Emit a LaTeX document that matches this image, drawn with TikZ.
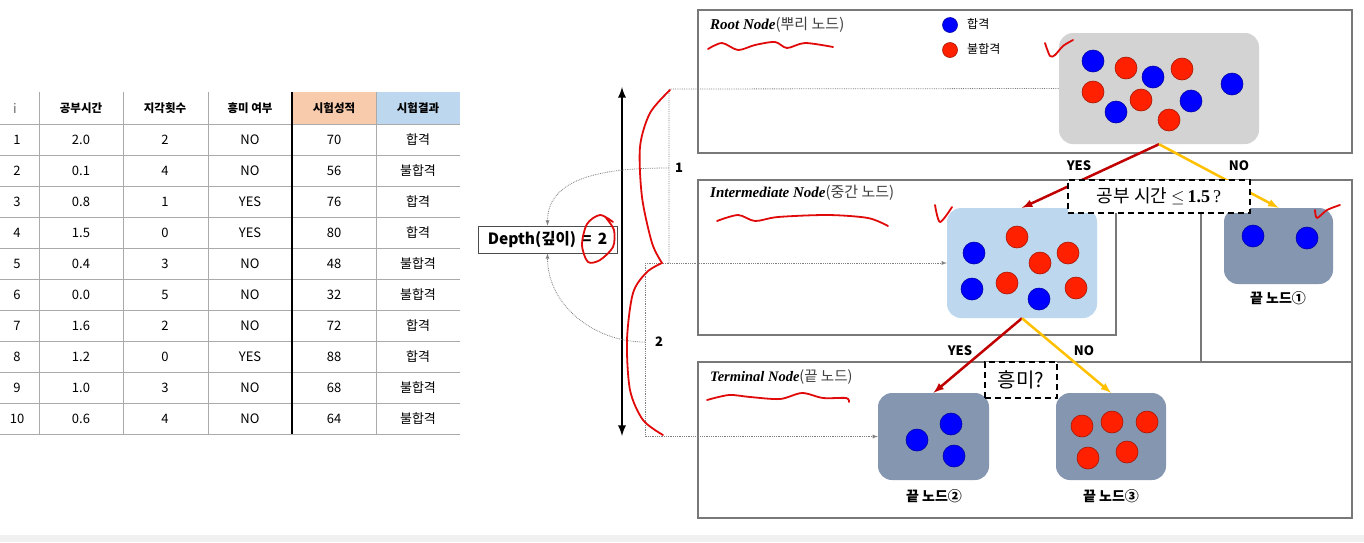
\documentclass[tikz,border=0pt]{standalone}
\usepackage{fontspec}
\setmainfont{Noto Sans CJK KR}
\newfontfamily\serifit{Liberation Serif}
\usepackage{xcolor}
\usetikzlibrary{calc, positioning}

\definecolor{rootgray}{RGB}{211,211,211}
\definecolor{midblue}{RGB}{189,215,238}
\definecolor{slate}{RGB}{132,150,176}
\definecolor{headpeach}{RGB}{248,203,173}
\definecolor{headblue}{RGB}{189,215,238}
\definecolor{gridgray}{RGB}{170,170,170}
\definecolor{panelgray}{RGB}{120,120,120}
\definecolor{yescol}{RGB}{192,0,0}
\definecolor{nocol}{RGB}{255,192,0}
\definecolor{bblue}{RGB}{0,0,255}
\definecolor{rred}{RGB}{255,32,0}
\definecolor{annot}{RGB}{225,10,10}

\begin{document}
\begin{tikzpicture}[>=latex, x=1pt, y=-1pt,
    cell/.style={inner sep=0pt, font=\fontsize{13}{13}\selectfont},
    head/.style={inner sep=0pt, font=\fontsize{11.5}{12}\selectfont\bfseries},
    lbl/.style={inner sep=0pt, font=\fontsize{13}{13}\selectfont\bfseries},
    panel/.style={draw=panelgray, line width=1.4pt},
    pool/.style={rounded corners=14pt, inner sep=0pt},
    ball/.style={circle, inner sep=0pt, minimum size=22pt, fill=#1, draw=#1!65!black, line width=0.6pt},
    ask/.style={draw, line width=2pt, dash pattern=on 6pt off 4pt, fill=white, inner sep=0pt},
    yesarrow/.style={->, draw=yescol, line width=2.5pt},
    noarrow/.style={->, draw=nocol, line width=2.5pt},
    guide/.style={densely dotted, draw=gray, line width=0.8pt},
    pen/.style={draw=annot, line width=1.8pt, line cap=round, line join=round}]
    \useasboundingbox[fill=white] (0,0) rectangle (1364,542);
    \fill[gray!12] (0,535) rectangle (1364,542);

    % 표
    \fill[headpeach] (292,92) rectangle (376,124);
    \fill[headblue] (376,92) rectangle (460,124);
    \foreach \k in {0,...,10}
        \draw[gridgray, line width=0.8pt] (0,{124+31*\k}) -- (460,{124+31*\k});
    \foreach \x in {39,123,208,376}
        \draw[gridgray, line width=0.8pt] (\x,92) -- (\x,434);
    \draw[line width=1.3pt] (292,92) -- (292,434);
    \node[cell, text=black!60] (h0) at (15,108) {i};
    \foreach \x/\t [count=\c] in {81/공부시간, 165/지각횟수, 250/흥미 여부, 334/시험성적, 418/시험결과}
        \node[head] (h\c) at (\x,108) {\t};
    \foreach \a/\b/\c/\d/\e/\f [count=\r] in {1/2.0/2/NO/70/합격, 2/0.1/4/NO/56/불합격,
        3/0.8/1/YES/76/합격, 4/1.5/0/YES/80/합격, 5/0.4/3/NO/48/불합격, 6/0.0/5/NO/32/불합격,
        7/1.6/2/NO/72/합격, 8/1.2/0/YES/88/합격, 9/1.0/3/NO/68/불합격, 10/0.6/4/NO/64/불합격} {
        \pgfmathsetmacro\y{108.5+31*\r}
        \node[cell] (ri\r) at (17,\y) {\a};
        \node[cell] (rt\r) at (81,\y) {\b};
        \node[cell] (rl\r) at (165,\y) {\c};
        \node[cell] (rh\r) at (250,\y) {\d};
        \node[cell] (rs\r) at (334,\y) {\e};
        \node[cell] (rp\r) at (418,\y) {\f};
    }

    % 깊이
    \coordinate (dtop) at (622,87);
    \coordinate (dbot) at (622,436);
    \draw[<->, line width=2.6pt] (dtop) -- (dbot);
    \node[draw=black!70, line width=0.8pt, minimum width=139pt, minimum height=27pt,
        font=\fontsize{15.5}{15.5}\selectfont\bfseries] (depth) at (547.5,239.5) {Depth(깊이)\, = \,2};

    % 영역
    \draw[panel] (698,10) rectangle (1352,153);
    \draw[panel] (698,180) rectangle (1116,335);
    \draw[panel] (1116,180) -- (1352,180) -- (1352,362);
    \draw[panel] (1201,180) -- (1201,362);
    \draw[panel] (698,362) rectangle (1352,518);
    \node[anchor=west, inner sep=0pt, font=\fontsize{15}{15}\selectfont] (lroot) at (710,25)
        {{\serifit\bfseries\itshape Root Node}\textcolor{black!75}{(뿌리 노드)}};
    \node[anchor=west, inner sep=0pt, font=\fontsize{15}{15}\selectfont] (lmid) at (710,193)
        {{\serifit\bfseries\itshape Intermediate Node}\textcolor{black!75}{(중간 노드)}};
    \node[anchor=west, inner sep=0pt, font=\fontsize{14.5}{15}\selectfont] (lterm) at (710,377)
        {{\serifit\bfseries\itshape Terminal Node}\textcolor{black!75}{(끝 노드)}};

    % 범례
    \node[ball=bblue, minimum size=15pt] (lg1) at (950,25) {};
    \node[ball=rred, minimum size=15pt] (lg2) at (950,50) {};
    \node[anchor=west, inner sep=0pt, font=\fontsize{12}{12}\selectfont] (lt1) at (967,24) {합격};
    \node[anchor=west, inner sep=0pt, font=\fontsize{12}{12}\selectfont] (lt2) at (967,49) {불합격};

    % 노드 상자
    \node[pool, fill=rootgray, minimum width=200pt, minimum height=111pt] (root) at (1159,88.5) {};
    \node[pool, fill=midblue, minimum width=150pt, minimum height=110pt] (mid) at (1022,263) {};
    \node[pool, fill=slate, minimum width=109pt, minimum height=76pt] (t1) at (1278.5,246) {};
    \node[pool, fill=slate, minimum width=111pt, minimum height=87pt] (t2) at (933.5,436.5) {};
    \node[pool, fill=slate, minimum width=110pt, minimum height=87pt] (t3) at (1111,436.5) {};

    % 공
    \foreach \p [count=\n] in {(1093,61),(1153,77),(1232,84),(1116,112),(1191,101),
        (974,253),(972,289),(1039,299),(1253,236),(1307,238),(917,440),(951,424),(954,456)}
        \node[ball=bblue] (b\n) at \p {};
    \foreach \p [count=\n] in {(1126,68),(1182,69),(1093,92),(1141,100),(1169,120),
        (1017,237),(1040,263),(1007,283),(1068,253),(1076,288),
        (1082,426),(1112,422),(1147,422),(1088,458),(1127,452)}
        \node[ball=rred] (r\n) at \p {};

    % 가지
    \draw[yesarrow] (root.south) -- (mid.north);
    \draw[noarrow] (root.south) -- (t1.north);
    \draw[yesarrow] (mid.south) -- (t2.north);
    \draw[noarrow] (mid.south) -- (t3.north);
    \node[lbl] (ya) at (1079,166) {YES};
    \node[lbl] (na) at (1239,166) {NO};
    \node[lbl] (yb) at (960,351) {YES};
    \node[lbl] (nb) at (1084,351) {NO};
    \node[ask, minimum width=182pt, minimum height=33pt, font=\fontsize{18}{18}\selectfont] (q1)
        at (1159,196) {공부 시간 $\leq$\,{\serifit\bfseries 1.5}\,{\serifit ?}};
    \node[ask, minimum width=72pt, minimum height=36pt, font=\fontsize{20}{20}\selectfont] (q2)
        at (1021,380) {흥미?};
    \node[font=\fontsize{14}{14}\selectfont\bfseries, inner sep=0pt] (c1) at (1278,298) {끝 노드①};
    \node[font=\fontsize{14}{14}\selectfont\bfseries, inner sep=0pt] (c2) at (934,496) {끝 노드②};
    \node[font=\fontsize{14}{14}\selectfont\bfseries, inner sep=0pt] (c3) at (1111,496) {끝 노드③};

    % 점선 안내
    \coordinate (g1) at (669,89);
    \coordinate (g2) at (669,263);
    \coordinate (g3) at (645,263);
    \coordinate (g4) at (645,436.5);
    \draw[guide] (g2) -- (g1) -- (root.west);
    \draw[guide, ->] (g3) -- (mid.west);
    \draw[guide, ->] (g3) -- (g4) -- (t2.west);
    \coordinate (k1) at (669,168);
    \coordinate (k2) at (645,342);
    \draw[guide, ->] (k1) to[out=180, in=90] (depth.north);
    \draw[guide, ->] (k2) to[out=180, in=-90] (depth.south);
    \node[lbl, fill=white, inner sep=1pt] (d1) at (679,168) {1};
    \node[lbl, fill=white, inner sep=1pt] (d2) at (659,342) {2};

    % 빨간 펜
    \draw[pen] plot[smooth] coordinates {(670,90) (650,113) (640,147) (642,197) (652,243) (662,263)};
    \draw[pen] plot[smooth] coordinates {(662,263) (647,272) (633,293) (627,340) (630,390) (643,420) (663,435)};
    \draw[pen] plot[smooth] coordinates {(613,222) (600,215) (587,224) (582,245) (588,262) (600,260) (613,247) (614,230) (606,218)};
    \draw[pen] plot[smooth] coordinates {(708,49) (722,43) (738,50) (755,45) (775,42) (787,48) (805,43) (833,47)};
    \draw[pen] plot[smooth] coordinates {(717,221) (738,215) (755,221) (778,217) (828,215) (868,218) (888,226)};
    \draw[pen] plot[smooth] coordinates {(707,400) (729,395) (750,397) (780,399) (802,393) (823,398) (846,398) (849,402)};
    \draw[pen] plot[smooth] coordinates {(1045,43) (1050,56) (1055,55) (1063,46) (1073,40)};
    \draw[pen] plot[smooth] coordinates {(935,205) (940,222) (952,207)};
    \draw[pen] plot[smooth] coordinates {(1315,210) (1317,218) (1327,210) (1340,205)};
\end{tikzpicture}
\end{document}
